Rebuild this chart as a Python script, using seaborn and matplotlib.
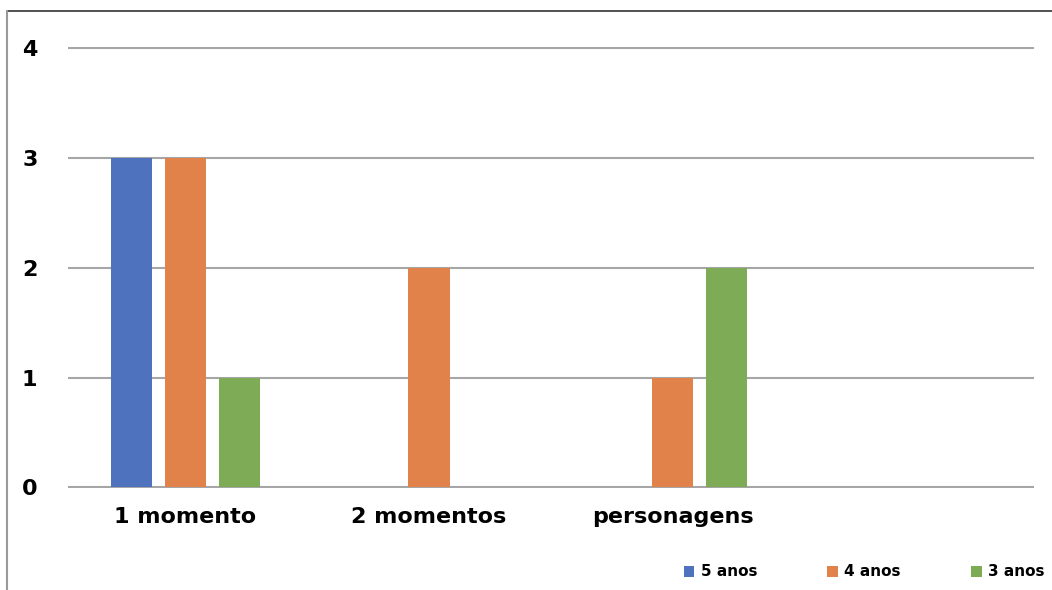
import pandas as pd
import matplotlib.pyplot as plt
import seaborn as sns
from matplotlib.patches import Patch
from matplotlib.lines import Line2D

# data
categorias = ["1 momento", "2 momentos", "personagens", " "]
grupos = ["5 anos", "4 anos", "3 anos"]
anos5 = [3, 0, 0, 0]
anos4 = [3, 2, 1, 0]
anos3 = [1, 0, 2, 0]
cores = ["#4F72BE", "#E1824A", "#7EAB55"]

df = pd.DataFrame({
    "Categoria": categorias * 3,
    "Grupo": [g for g in grupos for _ in categorias],
    "Valor": anos5 + anos4 + anos3,
})

plt.rcParams["font.family"] = ["DejaVu Sans"]
fig = plt.figure(figsize=(10.52, 5.90), dpi=100)
ax = fig.add_axes([68 / 1052, (590 - 488) / 590, 966 / 1052, 441 / 590])

sns.barplot(data=df, x="Categoria", y="Valor", hue="Grupo", order=categorias,
            hue_order=grupos, palette=cores, saturation=1, width=0.665, gap=0.24,
            linewidth=0, legend=False, ax=ax)

ax.set_ylim(-0.005, 4.01)
ax.set_xlim(-0.4825, 3.4846)
ax.set_yticks([0, 1, 2, 3, 4])
ax.grid(axis="y", color="#A6A6A6", linewidth=1.5)
ax.set_axisbelow(True)
for s in ax.spines.values():
    s.set_visible(False)
ax.tick_params(axis="both", length=0, labelsize=16)
ax.tick_params(axis="y", pad=22)
ax.tick_params(axis="x", pad=14)
for t in ax.get_xticklabels() + ax.get_yticklabels():
    t.set_fontweight("bold")
ax.set_xlabel("")
ax.set_ylabel("")

# legend bottom right
handles = [Patch(facecolor=c, edgecolor="none") for c in cores]
fig.legend(handles, grupos, loc="center left", bbox_to_anchor=(670 / 1052, 18 / 590),
           ncol=3, frameon=False, handlelength=0.7, handleheight=0.7,
           handletextpad=0.4, columnspacing=4.6,
           prop={"size": 11, "weight": "bold"})

# outer frame lines
fig.add_artist(Line2D([7 / 1052, 1], [1 - 11 / 590, 1 - 11 / 590], color="#333333", linewidth=1.2))
fig.add_artist(Line2D([7 / 1052, 7 / 1052], [0, 1 - 11 / 590], color="#999999", linewidth=1.5))

plt.savefig("out.png", dpi=100)
